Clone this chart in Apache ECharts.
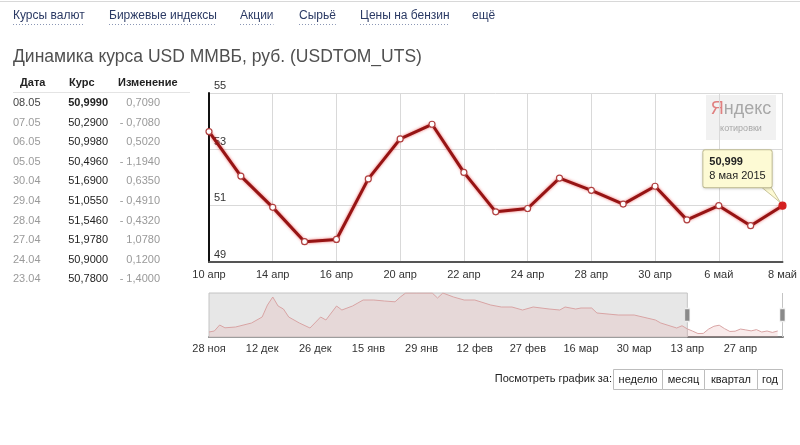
<!DOCTYPE html>
<html><head><meta charset="utf-8">
<script src="https://cdn.jsdelivr.net/npm/echarts@6/dist/echarts.min.js"></script>
<style>html,body{margin:0;padding:0;background:#fff}#c{width:800px;height:445px}</style>
</head><body><div id="c"></div>
<script>
// ---- data ----
const navLinks = ['Курсы валют','Биржевые индексы','Акции','Сырьё','Цены на бензин','ещё'];
const titleText = 'Динамика курса USD ММВБ, руб. (USDTOM_UTS)';
const tableHead = ['Дата','Курс','Изменение'];
const tableDates = ['08.05','07.05','06.05','05.05','30.04','29.04','28.04','27.04','24.04','23.04'];
const tableChanges = [0.709,-0.708,0.502,-1.194,0.635,-0.491,-0.432,1.078,0.12,-1.40];
const days = ['10 апр','13 апр','14 апр','15 апр','16 апр','17 апр','20 апр','21 апр','22 апр','23 апр','24 апр','27 апр','28 апр','29 апр','30 апр','5 май','6 май','7 май','8 май'];
const rates = [53.63,52.05,50.94,49.72,49.80,51.95,53.37,53.89,52.18,50.78,50.90,51.978,51.546,51.055,51.69,50.496,50.998,50.29,50.999];
const yTicks = {min:49,max:55,interval:2};
const tipDate = '8 мая 2015';
// navigator (trading-day index, value)
const navLabels = ['28 ноя','12 дек','26 дек','15 янв','29 янв','12 фев','27 фев','16 мар','30 мар','13 апр','27 апр'];
const navIdx = [0,1,2,3,5,8,10,11,12,13,14,15,17,19,21,22,24,25,27,29,31,33,35,36,37,39,42,43,44,46,48,50,53,55,57,59,61,64,66,67,69,70,72,73,77,80,84,85,88];
const navVal = [50.5,51,54,52.6,53,55,58,64,68,63.5,62,58,55,52.5,58,56.5,63.5,61.5,63.5,66.5,66.5,66,65.6,68,70,70,70,67.5,70,68,66.5,66.5,64,63,63,61.5,63,62,61.5,63,62,62.5,62.5,60,59,59,56.5,55,52.5];
const navFirstMainIdx = 89;
const navRange = {min:48,max:70,total:108};
const selStart = 90, selEnd = 107;
const periodLabel = 'Посмотреть график за:';
const periodButtons = ['неделю','месяц','квартал','год'];

const FONT = '"Liberation Sans", Arial, sans-serif';
const fmt = (v,d) => v.toFixed(d).replace('.',',');
const tableRates = rates.slice(-tableDates.length).reverse();

const navData = navIdx.map((x,i)=>[x,navVal[i]]).concat(rates.map((v,i)=>[navFirstMainIdx+i,v]));

const chart = echarts.init(document.getElementById('c'));

// graphics: nav links, title, table, buttons
const g = [];
g.push({type:'line',shape:{x1:0,y1:1.5,x2:800,y2:1.5},style:{stroke:'#d8d8d8',lineWidth:1}});
const navX = [13,109,240,299,360,472];
navLinks.forEach((t,i)=>{
  g.push({type:'text',x:navX[i],y:16,style:{text:t,font:'12px '+FONT,fill:'#2b3a64',verticalAlign:'middle'}});
  const w = echarts.format.getTextRect ? echarts.format.getTextRect(t,'12px '+FONT).width : t.length*6.5;
  if(i<navLinks.length-1) g.push({type:'line',shape:{x1:navX[i],y1:24.5,x2:navX[i]+w,y2:24.5},style:{stroke:'#8b97b5',lineWidth:1,lineDash:[1,2]}});
});
g.push({type:'text',x:13,y:57,style:{text:titleText,font:'17.5px '+FONT,fill:'#505050',verticalAlign:'middle'}});
// table
g.push({type:'text',x:20,y:83,style:{text:tableHead[0],font:'bold 11px '+FONT,fill:'#222',verticalAlign:'middle'}});
g.push({type:'text',x:69,y:83,style:{text:tableHead[1],font:'bold 11px '+FONT,fill:'#222',verticalAlign:'middle'}});
g.push({type:'text',x:118,y:83,style:{text:tableHead[2],font:'bold 11px '+FONT,fill:'#222',verticalAlign:'middle'}});
g.push({type:'line',shape:{x1:13,y1:92.5,x2:190,y2:92.5},style:{stroke:'#e4e4e4',lineWidth:1}});
tableDates.forEach((d,i)=>{
  const y = 103 + i*19.6;
  g.push({type:'text',x:13,y:y,style:{text:d,font:'11px '+FONT,fill:i===0?'#444':'#9a9a9a',verticalAlign:'middle'}});
  g.push({type:'text',x:108,y:y,style:{text:fmt(tableRates[i],4),font:(i===0?'bold ':'')+'11px '+FONT,fill:'#222',align:'right',verticalAlign:'middle'}});
  const c = tableChanges[i];
  g.push({type:'text',x:160,y:y,style:{text:(c<0?'- ':'')+fmt(Math.abs(c),4),font:'11px '+FONT,fill:'#999',align:'right',verticalAlign:'middle'}});
});
// period buttons
g.push({type:'text',x:612,y:379,style:{text:periodLabel,font:'11px '+FONT,fill:'#222',align:'right',verticalAlign:'middle'}});
const bx = [613,662,704,757,782];
periodButtons.forEach((t,i)=>{
  g.push({type:'rect',shape:{x:bx[i]+0.5,y:369.5,width:bx[i+1]-bx[i],height:20},style:{fill:'#fff',stroke:'#bdbdbd',lineWidth:1}});
  g.push({type:'text',x:(bx[i]+bx[i+1])/2+0.5,y:379.5,style:{text:t,font:'11px '+FONT,fill:'#222',align:'center',verticalAlign:'middle'}});
});
// Yandex watermark
g.push({type:'rect',shape:{x:706,y:95,width:70,height:45},style:{fill:'#f1f1f1'}});
g.push({type:'text',x:741,y:109,style:{text:'{r|Я}{g|ндекс}',align:'center',verticalAlign:'middle',rich:{r:{font:'18px '+FONT,fill:'#e08080'},g:{font:'18px '+FONT,fill:'#a8a8a8'}}}});
g.push({type:'text',x:741,y:129,style:{text:'котировки',font:'9px '+FONT,fill:'#a8a8a8',align:'center',verticalAlign:'middle'}});

const last = rates.length-1;
const option = {
  animation:false,
  textStyle:{fontFamily:FONT},
  grid:[
    {left:209,right:17,top:93,bottom:183},
    {left:209,right:17,top:293,bottom:108}
  ],
  xAxis:[
    {type:'category',gridIndex:0,data:days,boundaryGap:false,
     axisLine:{lineStyle:{color:'#555',width:2}},axisTick:{show:false},
     axisLabel:{interval:1,color:'#333',fontSize:11,margin:7},
     splitLine:{show:true,interval:1,lineStyle:{color:'#d9d9d9',width:1}}},
    {type:'value',gridIndex:1,min:0,max:navRange.total,interval:10,
     axisLine:{lineStyle:{color:'#777',width:2}},axisTick:{show:false},splitLine:{show:false},
     axisLabel:{color:'#333',fontSize:11,margin:6,showMaxLabel:false,formatter:v=>navLabels[v/10]||''}}
  ],
  yAxis:[
    {type:'value',gridIndex:0,min:yTicks.min,max:yTicks.max,interval:yTicks.interval,
     axisLine:{show:true,lineStyle:{color:'#111',width:2}},axisTick:{show:false},
     axisLabel:{inside:true,margin:5,verticalAlign:'bottom',padding:[0,0,2,0],color:'#333',fontSize:11},
     splitLine:{lineStyle:{color:'#d9d9d9',width:1}}},
    {type:'value',gridIndex:1,min:navRange.min,max:navRange.max,show:false,splitLine:{show:false}}
  ],
  series:[
    {type:'line',xAxisIndex:0,yAxisIndex:0,z:5,
     data:rates.map((v,i)=>i===last?{value:v,symbolSize:7,itemStyle:{color:'#d42020',borderColor:'#d42020'}}:v),
     symbol:'circle',symbolSize:6,showAllSymbol:true,
     lineStyle:{color:'#961414',width:3,shadowColor:'rgba(230,40,40,0.7)',shadowBlur:3},
     itemStyle:{color:'#fff',borderColor:'#b04040',borderWidth:1.2},
     markPoint:{symbol:'circle',symbolSize:1,itemStyle:{color:'transparent'},
       data:[{coord:[last,rates[last]],
         label:{show:true,position:'inside',offset:[-45,-37],align:'center',verticalAlign:'middle',
           formatter:'{b|'+fmt(rates[last],3)+'}\n{n|'+tipDate+'}',
           backgroundColor:'#fdfad4',borderColor:'#c8c49a',borderWidth:1,borderRadius:2,padding:[5,6,4,6],
           shadowColor:'rgba(0,0,0,0.12)',shadowBlur:3,shadowOffsetY:1,
           rich:{b:{fontWeight:'bold',fontSize:11,color:'#222',lineHeight:14,align:'left'},n:{fontSize:11,color:'#222',lineHeight:14,align:'left'}}}}]}},
    {type:'line',xAxisIndex:1,yAxisIndex:1,z:1,data:[],silent:true,
     markArea:{silent:true,itemStyle:{color:'#e7e7e7',borderColor:'#c4c4c4',borderWidth:1},
       data:[[{xAxis:0},{xAxis:selStart}]]},
     markLine:{silent:true,symbol:'none',label:{show:false},lineStyle:{color:'#c4c4c4',width:1,type:'solid'},
       data:[{xAxis:selEnd+0.9}]}},
    {type:'line',xAxisIndex:1,yAxisIndex:1,z:2,data:navData,symbol:'none',silent:true,
     lineStyle:{color:'#d8a4a4',width:1},areaStyle:{color:'rgba(228,160,160,0.3)'},
     markPoint:{symbol:'rect',symbolSize:[5,13],itemStyle:{color:'#8a8a8a',borderColor:'#eee',borderWidth:1},label:{show:false},
       data:[{coord:[selStart,(navRange.min+navRange.max)/2]},{coord:[selEnd+0.9,(navRange.min+navRange.max)/2]}]}}
  ],
  graphic:g
};
chart.setOption(option);
// tooltip tail
const p = chart.convertToPixel({seriesIndex:0},[last,rates[last]]);
chart.setOption({graphic:g.concat([{type:'polygon',z:1,shape:{points:[[p[0]-24,p[1]-21],[p[0]-13,p[1]-21],[p[0]-2,p[1]-3]]},style:{fill:'#fdfad4',stroke:'#c8c49a',lineWidth:1}}])});
</script></body></html>
